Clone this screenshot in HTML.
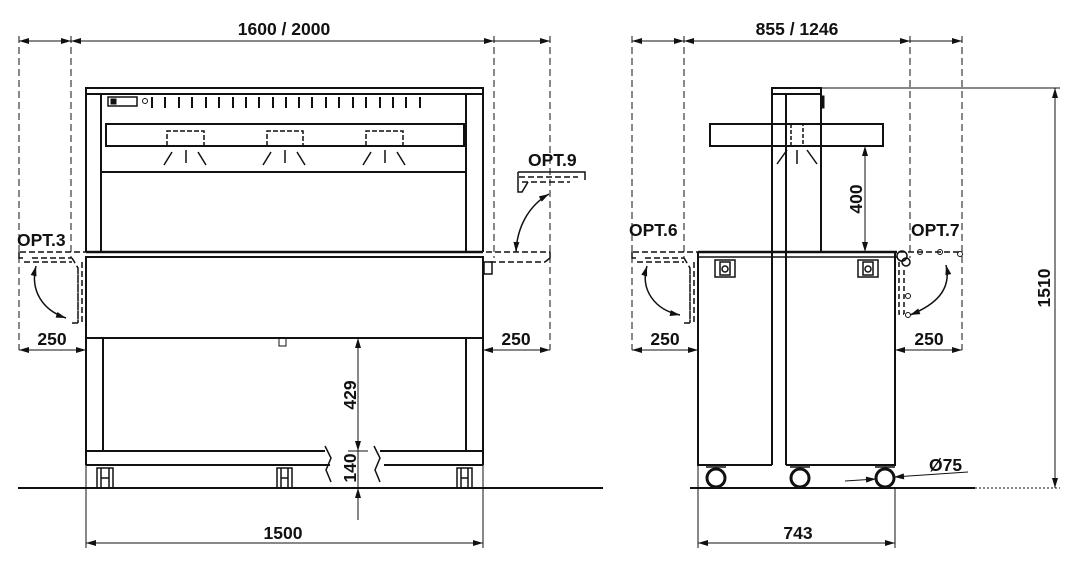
<!DOCTYPE html>
<html><head><meta charset="utf-8"><style>
html,body{margin:0;padding:0;background:#fff}
svg{display:block}
text{font-family:"Liberation Sans",Arial,sans-serif;font-weight:bold;font-size:17.5px;fill:#111}
</style></head><body>
<svg width="1074" height="582" viewBox="0 0 1074 582" xmlns="http://www.w3.org/2000/svg">
<defs>
<marker id="a" viewBox="0 0 10 6" refX="10" refY="3" markerWidth="14" markerHeight="6" markerUnits="userSpaceOnUse" orient="auto-start-reverse"><path d="M0,0 L10,3 L0,6 Z" fill="#111"/></marker>
</defs>
<g stroke="#111" fill="none" stroke-width="1">
<g stroke-dasharray="7,4">
<line x1="19" y1="36" x2="19" y2="350"/><line x1="71" y1="36" x2="71" y2="258"/>
<line x1="494" y1="36" x2="494" y2="258"/><line x1="550" y1="36" x2="550" y2="350"/>
<line x1="19" y1="41" x2="550" y2="41"/>
</g>
<line x1="19" y1="41" x2="71" y2="41" marker-start="url(#a)" marker-end="url(#a)"/>
<line x1="71" y1="41" x2="494" y2="41" marker-start="url(#a)" marker-end="url(#a)"/>
<line x1="494" y1="41" x2="550" y2="41" marker-end="url(#a)"/>
<rect x="86" y="88" width="397" height="6" stroke-width="2"/>
<line x1="86" y1="94" x2="86" y2="252" stroke-width="2"/>
<line x1="101" y1="94" x2="101" y2="252" stroke-width="2"/>
<line x1="466" y1="94" x2="466" y2="252" stroke-width="2"/>
<line x1="483" y1="94" x2="483" y2="252" stroke-width="2"/>
<rect x="108" y="97" width="29" height="9" stroke-width="1.5"/><rect x="111" y="99" width="5" height="5" fill="#111"/>
<circle cx="145" cy="101" r="2.5"/>
<g stroke-width="2">
<path d="M152 97v11M165 97v11M179 97v11M192 97v11M206 97v11M219 97v11M233 97v11M246 97v11M259 97v11M273 97v11M286 97v11M299 97v11M312 97v11M326 97v11M339 97v11M353 97v11M366 97v11M380 97v11M393 97v11M406 97v11M420 97v11"/>
</g>
<rect x="106" y="124" width="358" height="22" stroke-width="2"/>
<g stroke-dasharray="5,2" stroke-width="1.5">
<path d="M167 146V131H204V146M267 146V131H303V146M366 146V131H403V146"/>
</g>
<g stroke-width="1.5">
<path d="M172 152l-8 13M186 150v13M198 152l8 13M271 152l-8 13M285 150v13M297 152l8 13M371 152l-8 13M385 150v13M397 152l8 13"/>
</g>
<line x1="101" y1="172" x2="466" y2="172" stroke-width="2"/>
<line x1="86" y1="252" x2="483" y2="252" stroke-width="2.5"/>
<line x1="86" y1="257" x2="483" y2="257" stroke-width="1.5"/>
<rect x="86" y="257" width="397" height="81" stroke-width="2"/>
<rect x="279" y="338" width="7" height="8"/>
<line x1="86" y1="338" x2="86" y2="465" stroke-width="2"/>
<line x1="103" y1="338" x2="103" y2="451" stroke-width="2"/>
<line x1="466" y1="338" x2="466" y2="451" stroke-width="2"/>
<line x1="483" y1="338" x2="483" y2="465" stroke-width="2"/>
<path d="M86 451H325M380 451H483M86 465H330M384 465H483" stroke-width="2"/>
<path d="M325 446l6 12-5 12 5 12M374 446l6 12-5 12 5 12" stroke-width="1.5"/>
<g stroke-width="1.5">
<path d="M97 488v-20h16v20M101 468v20M109 468v20M101 478h8"/>
<path d="M277 488v-20h15v20M281 468v20M288 468v20M281 478h7"/>
<path d="M457 488v-20h15v20M461 468v20M468 468v20M461 478h7"/>
</g>
<line x1="18" y1="488" x2="603" y2="488" stroke-width="2"/>
<line x1="690" y1="488" x2="975" y2="488" stroke-width="2"/>
<line x1="358" y1="338" x2="358" y2="451" marker-start="url(#a)" marker-end="url(#a)"/>
<line x1="358" y1="451" x2="358" y2="488" />
<line x1="358" y1="520" x2="358" y2="488" marker-end="url(#a)"/>
<line x1="348" y1="451" x2="368" y2="451"/>
<line x1="86" y1="465" x2="86" y2="548"/><line x1="483" y1="465" x2="483" y2="548"/>
<line x1="86" y1="543" x2="483" y2="543" marker-start="url(#a)" marker-end="url(#a)"/>
<line x1="19" y1="350" x2="86" y2="350" marker-start="url(#a)" marker-end="url(#a)"/>
<line x1="483" y1="350" x2="550" y2="350" marker-start="url(#a)" marker-end="url(#a)"/>
<g stroke-dasharray="6,3" stroke-width="1.5">
<path d="M20 252H86M24 262H72M32 258H72M72 258l6 10v55M78 268v55M82 262v61"/>
</g>
<path d="M19 252v6h4" stroke-width="1.5"/>
<path d="M72 323h6" stroke-width="1.5"/>
<path d="M36 266C30 290 42 310 66 318" marker-start="url(#a)" marker-end="url(#a)" stroke-width="1.5"/>
<g stroke-dasharray="6,3" stroke-width="1.5">
<path d="M486 252H550M490 262H545M519 177H578M522 182H570"/>
</g>
<path d="M518 172H585V180M518 172v20h4l6-10" stroke-width="1.5"/>
<path d="M550 252v6l-5 4" stroke-width="1.5"/>
<rect x="484" y="262" width="8" height="12" stroke-width="1.5"/>
<path d="M549 194C528 206 517 228 516 252" marker-start="url(#a)" marker-end="url(#a)" stroke-width="1.5"/>

<g stroke-dasharray="7,4">
<line x1="632" y1="36" x2="632" y2="350"/><line x1="684" y1="36" x2="684" y2="258"/>
<line x1="910" y1="36" x2="910" y2="258"/><line x1="962" y1="36" x2="962" y2="350"/>
<line x1="632" y1="41" x2="962" y2="41"/>
</g>
<line x1="632" y1="41" x2="684" y2="41" marker-start="url(#a)" marker-end="url(#a)"/>
<line x1="684" y1="41" x2="910" y2="41" marker-start="url(#a)" marker-end="url(#a)"/>
<line x1="910" y1="41" x2="962" y2="41" marker-end="url(#a)"/>
<rect x="772" y="88" width="49" height="6" stroke-width="2"/>
<line x1="772" y1="94" x2="772" y2="465" stroke-width="2"/>
<line x1="786" y1="94" x2="786" y2="465" stroke-width="2"/>
<line x1="821" y1="94" x2="821" y2="252" stroke-width="2"/>
<rect x="821" y="96" width="3" height="12" fill="#111"/>
<rect x="710" y="124" width="173" height="22" stroke-width="2"/>
<path d="M791 124v22h12v-22" stroke-dasharray="4,2" stroke-width="1.5"/>
<path d="M787 150l-10 14M797 150v14M807 150l10 14" stroke-width="1.5"/>
<line x1="865" y1="146" x2="865" y2="252" marker-start="url(#a)" marker-end="url(#a)"/>
<line x1="698" y1="252" x2="897" y2="252" stroke-width="2.5"/>
<line x1="698" y1="257" x2="897" y2="257" stroke-width="1.5"/>
<path d="M698 252V465H772M786 465H895V252" stroke-width="2"/>
<g stroke-width="1.5"><rect x="715" y="260" width="20" height="17"/><rect x="720" y="262" width="10" height="13"/><circle cx="725" cy="269" r="3"/>
<rect x="858" y="260" width="20" height="17"/><rect x="863" y="262" width="10" height="13"/><circle cx="868" cy="269" r="3"/></g>
<g stroke-width="3"><circle cx="716" cy="478" r="9"/><circle cx="800" cy="478" r="9"/><circle cx="885" cy="478" r="9"/></g>
<path d="M706 467h20M790 467h20M875 467h20" stroke-width="1.5"/>
<line x1="698" y1="465" x2="698" y2="548"/><line x1="895" y1="488" x2="895" y2="548"/>
<line x1="698" y1="543" x2="895" y2="543" marker-start="url(#a)" marker-end="url(#a)"/>
<line x1="632" y1="350" x2="698" y2="350" marker-start="url(#a)" marker-end="url(#a)"/>
<line x1="895" y1="350" x2="962" y2="350" marker-start="url(#a)" marker-end="url(#a)"/>
<line x1="821" y1="88" x2="1060" y2="88"/>
<line x1="975" y1="488" x2="1060" y2="488" stroke-dasharray="2,2"/>
<line x1="1055" y1="88" x2="1055" y2="488" marker-start="url(#a)" marker-end="url(#a)"/>
<line x1="845" y1="481" x2="876" y2="479" marker-end="url(#a)"/>
<line x1="968" y1="472" x2="894" y2="477" marker-end="url(#a)"/>
<g stroke-dasharray="6,3" stroke-width="1.5">
<path d="M633 252H698M637 262H684M645 258H684M684 258l6 10v55M690 268v55M694 262v61"/>
</g>
<path d="M632 252v6h4M684 323h6" stroke-width="1.5"/>
<path d="M647 266C640 290 655 310 680 315" marker-start="url(#a)" marker-end="url(#a)" stroke-width="1.5"/>
<path d="M899 252H962" stroke-dasharray="6,3" stroke-width="1.5"/>
<circle cx="920" cy="252" r="2.5"/><circle cx="940" cy="252" r="2.5"/><circle cx="960" cy="254" r="2.5"/>
<circle cx="902" cy="256" r="5" stroke-width="1.5"/><circle cx="906" cy="262" r="4" stroke-width="1.5"/>
<path d="M899 262v52h5M904 270v44" stroke-dasharray="5,3" stroke-width="1.5"/>
<circle cx="908" cy="296" r="2.5"/><circle cx="908" cy="315" r="2.5"/>
<path d="M946 265C952 290 935 305 910 315" marker-start="url(#a)" marker-end="url(#a)" stroke-width="1.5"/>
</g>
<text x="284" y="35" text-anchor="middle">1600 / 2000</text>
<text x="17" y="246">OPT.3</text>
<text x="528" y="166">OPT.9</text>
<text x="52" y="345" text-anchor="middle">250</text>
<text x="516" y="345" text-anchor="middle">250</text>
<text x="283" y="539" text-anchor="middle">1500</text>
<text transform="translate(356,395) rotate(-90)" text-anchor="middle">429</text>
<text transform="translate(356,468) rotate(-90)" text-anchor="middle">140</text>
<text x="797" y="35" text-anchor="middle">855 / 1246</text>
<text x="629" y="236">OPT.6</text>
<text x="911" y="236">OPT.7</text>
<text x="665" y="345" text-anchor="middle">250</text>
<text x="929" y="345" text-anchor="middle">250</text>
<text x="798" y="539" text-anchor="middle">743</text>
<text transform="translate(862,199) rotate(-90)" text-anchor="middle">400</text>
<text transform="translate(1050,288) rotate(-90)" text-anchor="middle">1510</text>
<text x="929" y="471">Ø75</text>
</svg>
</body></html>
